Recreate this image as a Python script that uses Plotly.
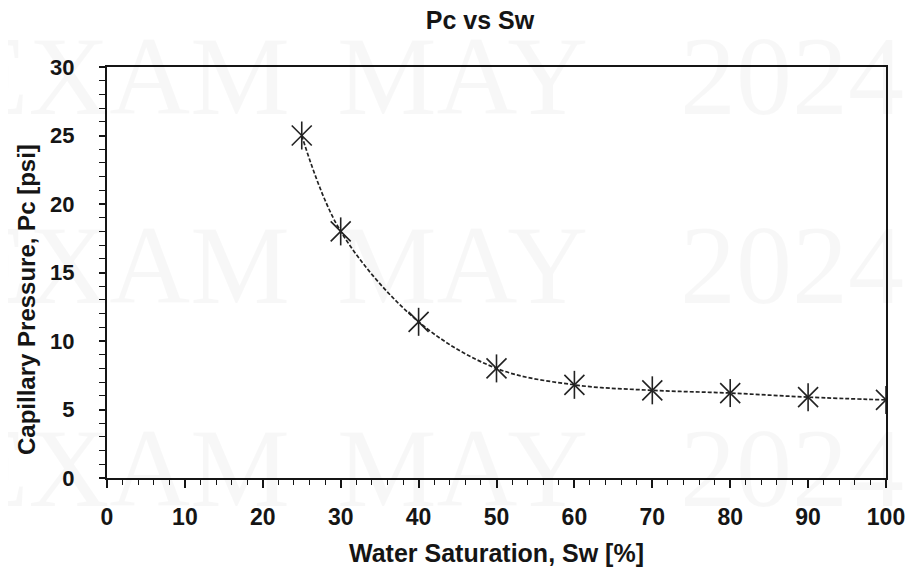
import plotly.graph_objects as go

# Data
sw = [25, 30, 40, 50, 60, 70, 80, 90, 100]
pc = [25.0, 18.0, 11.4, 8.0, 6.8, 6.4, 6.2, 5.9, 5.7]

title_text = "Pc vs Sw"
x_title = "Water Saturation, Sw [%]"
y_title = "Capillary Pressure, Pc [psi]"
x_ticks = [0, 10, 20, 30, 40, 50, 60, 70, 80, 90, 100]
y_ticks = [0, 5, 10, 15, 20, 25, 30]

# page has an 8px body margin: figure sits at (8, 8)
OFF = 8
PAGE_W, PAGE_H = 914, 575
W, H = PAGE_W - 2 * OFF, PAGE_H - 2 * OFF
# plot area in page pixels
PL, PR, PT, PB = 107, 886, 67, 478
L, R, T, B = PL - OFF, (OFF + W) - PR, PT - OFF, (OFF + H) - PB
pw, ph = PR - PL, PB - PT

def px_x(p):
    return (p - PL) / pw

def px_y(p):
    return 1 - (p - PT) / ph

narrow = "Liberation Sans Narrow, Arial Narrow, Liberation Sans, Arial, sans-serif"
sans = "Liberation Sans, Arial, sans-serif"
ink = "#151515"

fig = go.Figure()

# dashed smooth line
fig.add_trace(go.Scatter(
    x=sw, y=pc, mode="lines",
    line=dict(color="#222222", width=1.7, dash="4px,2px", shape="spline", smoothing=1.0),
    hoverinfo="skip", showlegend=False,
))
# asterisk markers: X + vertical bar
for sym in ["x-thin-open", "line-ns-open"]:
    fig.add_trace(go.Scatter(
        x=sw, y=pc, mode="markers",
        marker=dict(symbol=sym, size=20, color="#222222",
                    line=dict(color="#222222", width=1.6)),
        showlegend=False,
    ))

# faint watermark
annotations = []
rows = [76, 265, 468]
for ry in rows:
    for word, xp, anchor in [("EXAM", 292, "right"), ("MAY", 462, "center"), ("2024", 678, "left")]:
        annotations.append(dict(
            text=word, x=px_x(xp), y=px_y(ry), xref="paper", yref="paper",
            xanchor=anchor, yanchor="middle", showarrow=False,
            font=dict(family="Liberation Serif, DejaVu Serif, serif", size=112,
                      color="rgba(0,0,0,0.03)"),
        ))

# y-axis title (sits slightly below the plot centre in the reference)
annotations.append(dict(
    text="<b>" + y_title + "</b>", textangle=-90,
    x=px_x(26), y=px_y(300), xref="paper", yref="paper",
    xanchor="center", yanchor="middle", showarrow=False,
    font=dict(family=sans, size=24, color=ink),
))

fig.update_layout(
    width=W, height=H,
    margin=dict(l=L, r=R, t=T, b=B, autoexpand=False),
    paper_bgcolor="white", plot_bgcolor="white",
    title=dict(text="<b>" + title_text + "</b>", x=(480 - OFF) / W, xanchor="center",
               y=1 - (20 - OFF) / H, yanchor="middle",
               font=dict(family=narrow, size=25, color=ink)),
    annotations=annotations,
    showlegend=False,
)

fig.update_xaxes(
    range=[0, 100], tickvals=x_ticks, ticktext=[str(v) for v in x_ticks],
    showgrid=False, zeroline=False,
    showline=True, linecolor=ink, linewidth=2, mirror=True,
    ticks="outside", ticklen=8, tickwidth=1.5, tickcolor=ink,
    minor=dict(dtick=2, ticks="outside", ticklen=5, tickwidth=1.2, tickcolor=ink),
    tickfont=dict(family=sans, size=23, color=ink, weight="bold"),
    ticklabelstandoff=9,
    title=dict(text="<b>" + x_title + "</b>", standoff=16,
               font=dict(family=sans, size=25, color=ink)),
)
fig.update_yaxes(
    range=[0, 30], tickvals=y_ticks, ticktext=[str(v) for v in y_ticks],
    showgrid=False, zeroline=False,
    showline=True, linecolor=ink, linewidth=2, mirror=True,
    ticks="outside", ticklen=6, tickwidth=1.5, tickcolor=ink,
    minor=dict(dtick=1, ticks="outside", ticklen=6, tickwidth=1.2, tickcolor=ink),
    tickfont=dict(family=sans, size=22, color=ink, weight="bold"),
    ticklabelstandoff=20,
)

fig.write_html("out.html")
